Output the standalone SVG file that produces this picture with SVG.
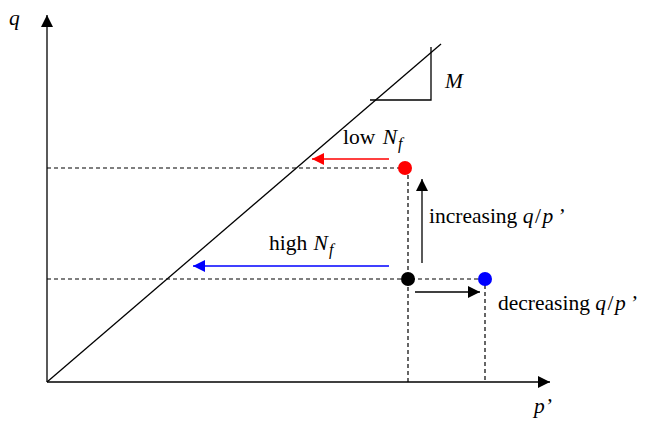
<svg xmlns="http://www.w3.org/2000/svg" width="653" height="421" viewBox="0 0 653 421">
<style>
text{font-family:"Liberation Serif","Times New Roman",serif;font-size:21.5px;fill:#000}
.i{font-style:italic}
.ln{stroke:#000;stroke-width:1.3;fill:none}
.d{stroke:#000;stroke-width:1.2;stroke-dasharray:4,3;fill:none}
.qp{letter-spacing:1.5px}
.sub{font-style:italic;font-size:16px}
</style>
<defs>
<marker id="ak" viewBox="0 0 10 10" refX="10" refY="5" markerWidth="14" markerHeight="12" markerUnits="userSpaceOnUse" orient="auto"><path d="M0,0L10,5L0,10z" fill="#000"/></marker>
<marker id="ar" viewBox="0 0 10 10" refX="10" refY="5" markerWidth="14" markerHeight="12" markerUnits="userSpaceOnUse" orient="auto"><path d="M0,0L10,5L0,10z" fill="#f00"/></marker>
<marker id="ab" viewBox="0 0 10 10" refX="10" refY="5" markerWidth="14" markerHeight="12" markerUnits="userSpaceOnUse" orient="auto"><path d="M0,0L10,5L0,10z" fill="#00f"/></marker>
</defs>
<g id="axes">
<line class="ln" x1="47" y1="382" x2="47" y2="15" marker-end="url(#ak)"/>
<line class="ln" x1="47" y1="382" x2="550" y2="382" marker-end="url(#ak)"/>
<text class="i" x="9" y="25">q</text>
<text class="i" x="534" y="413">p<tspan dx="0">’</tspan></text>
</g>
<g id="csl">
<line class="ln" x1="47" y1="382" x2="441" y2="44"/>
<polyline class="ln" points="370,100 431,100 431,47"/>
<text class="i" x="445" y="88">M</text>
</g>
<g id="connectors">
<line class="d" x1="47" y1="168" x2="400" y2="168"/>
<line class="d" x1="47" y1="279" x2="485" y2="279"/>
<line class="d" x1="408" y1="175" x2="408" y2="382"/>
<line class="d" x1="485" y1="285" x2="485" y2="382"/>
<line x1="389" y1="159" x2="312" y2="159" stroke="#f00" stroke-width="1.3" marker-end="url(#ar)"/>
<line x1="389" y1="266" x2="193" y2="266" stroke="#00f" stroke-width="1.3" marker-end="url(#ab)"/>
<line class="ln" x1="422" y1="263" x2="422" y2="179" marker-end="url(#ak)"/>
<line class="ln" x1="415" y1="292" x2="480" y2="292" marker-end="url(#ak)"/>
</g>
<g id="red"><circle cx="405" cy="168" r="7" fill="#f00"/></g>
<g id="black"><circle cx="408" cy="279" r="7" fill="#000"/></g>
<g id="blue"><circle cx="485" cy="279" r="7" fill="#00f"/></g>
<g id="labels">
<text x="343" y="144">low <tspan class="i" dx="2">N</tspan><tspan class="sub" dx="1" dy="5">f</tspan></text>
<text x="269" y="250">high <tspan class="i" dx="1">N</tspan><tspan class="sub" dx="1" dy="5">f</tspan></text>
<text x="429" y="223">increasing <tspan class="i qp">q</tspan><tspan class="qp">/</tspan><tspan class="i">p</tspan><tspan class="i" dx="4">’</tspan></text>
<text x="498" y="310">decreasing <tspan class="i qp">q</tspan><tspan class="qp">/</tspan><tspan class="i">p</tspan><tspan class="i" dx="4">’</tspan></text>
</g>
</svg>
